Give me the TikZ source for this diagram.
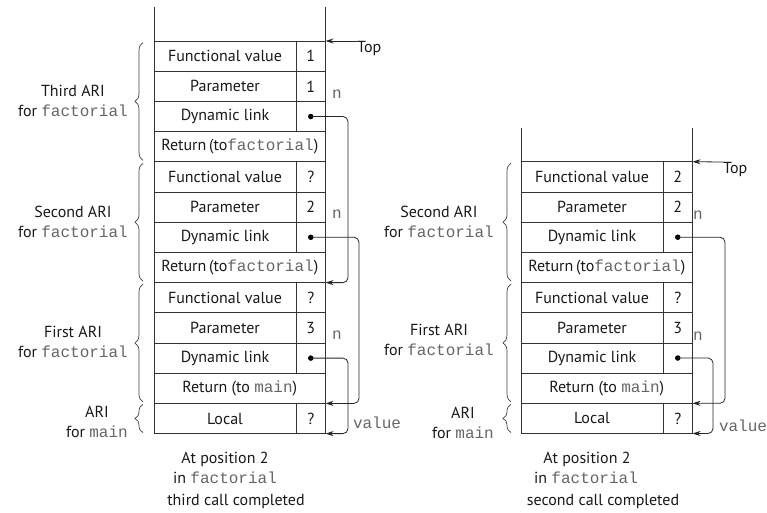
\documentclass[tikz,border=0pt]{standalone}
\usepackage{fontspec}
\setmainfont{PT Sans}
\setmonofont{Liberation Mono}
\usetikzlibrary{arrows.meta,decorations.pathreplacing,calc}
\newcommand{\codetxt}[1]{{\color{black!60}\ttfamily #1}}
\newcommand{\trow}[4]{\node[lcell] (#1l) at (#2) {#3}; \node[rcell] (#1r) at (#1l.north east) {#4};}
\newcommand{\frow}[3]{\node[fcell] (#1l) at (#2) {#3};}
\begin{document}
\begin{tikzpicture}[x=1pt,y=-1pt,
  every node/.style={font=\fontsize{16}{20}\selectfont, text=black!90},
  cellbase/.style={draw=black!80, line width=0.8pt, minimum height=30.2pt, inner sep=0pt, outer sep=0pt, anchor=north west},
  lcell/.style={cellbase, minimum width=142pt},
  rcell/.style={cellbase, minimum width=29.5pt},
  fcell/.style={cellbase, minimum width=171.5pt},
  wall/.style={draw=black!80, line width=0.8pt},
  dotn/.style={circle, fill=black, inner sep=0pt, minimum size=5.5pt},
  arr/.style={draw=black!85, line width=0.8pt, -{Stealth[length=8pt,width=5pt]}},
  link/.style={arr, rounded corners=5pt},
  brc/.style={draw=black!75, line width=0.7pt, decorate, decoration={brace, amplitude=8pt}},
  brlbl/.style={anchor=east, align=center, inner sep=0pt},
  toplbl/.style={anchor=north west, inner sep=0pt},
  lbl/.style={inner sep=0pt}
]
\useasboundingbox (0,0) rectangle (767,512);
\fill[white] (0,0) rectangle (767,512);

% ---------- left stack ----------
\trow{L0}{154,41}{Functional value}{1}
\trow{L1}{L0l.south west}{Parameter}{1}
\trow{L2}{L1l.south west}{Dynamic link}{}
\frow{L3}{L2l.south west}{Return\,(to\codetxt{factorial})}
\trow{L4}{L3l.south west}{Functional value}{?}
\trow{L5}{L4l.south west}{Parameter}{2}
\trow{L6}{L5l.south west}{Dynamic link}{}
\frow{L7}{L6l.south west}{Return\,(to\codetxt{factorial})}
\trow{L8}{L7l.south west}{Functional value}{?}
\trow{L9}{L8l.south west}{Parameter}{3}
\trow{L10}{L9l.south west}{Dynamic link}{}
\frow{L11}{L10l.south west}{Return (to \codetxt{main})}
\trow{L12}{L11l.south west}{Local}{?}

\draw[wall] (L0l.north west) -- ++(0,-34);
\draw[wall] (L0r.north east) -- ++(0,-34);

\node[dotn] (L2d) at (L2r.center) {};
\node[dotn] (L6d) at (L6r.center) {};
\node[dotn] (L10d) at (L10r.center) {};

\coordinate (LxA) at (348,0);
\coordinate (LxB) at (359,0);
\draw[link] (L2d.center) -- (L2d.center -| LxA) -- (LxA |- L8r.north east) -- (L8r.north east);
\draw[link] (L6d.center) -- (L6d.center -| LxB) -- (LxB |- L12r.north east) -- (L12r.north east);
\draw[link] (L10d.center) -- (L10d.center -| LxA) -- (LxA |- L12r.south east) -- (L12r.south east);

\node[toplbl] (TL) at (357,41) {Top};
\draw[arr] (TL.north west) -- (L0r.north east);

\node[lbl] (Ln1) at (337,94) {\codetxt{n}};
\node[lbl] (Ln2) at (337,214) {\codetxt{n}};
\node[lbl] (Ln3) at (337,335) {\codetxt{n}};
\node[lbl] (Lval) at (377,423) {\codetxt{value}};

\draw[brc] ([xshift=-11pt,yshift=1.5pt]L3l.south west) -- ([xshift=-11pt,yshift=-1.5pt]L0l.north west);
\draw[brc] ([xshift=-11pt,yshift=1.5pt]L7l.south west) -- ([xshift=-11pt,yshift=-1.5pt]L4l.north west);
\draw[brc] ([xshift=-11pt,yshift=1.5pt]L11l.south west) -- ([xshift=-11pt,yshift=-1.5pt]L8l.north west);
\draw[brc] ([xshift=-11pt,yshift=1pt]L12l.south west) -- ([xshift=-11pt,yshift=-1pt]L12l.north west);

\node[brlbl] (LB1) at (128,101) {Third ARI\\for \codetxt{factorial}};
\node[brlbl] (LB2) at (128,222) {Second ARI\\for \codetxt{factorial}};
\node[brlbl] (LB3) at (128,342) {First ARI\\for \codetxt{factorial}};
\node[brlbl] (LB4) at (128,422) {ARI\\for \codetxt{main}};

\node[lbl] (LC1) at (225,459) {At position 2};
\node[lbl] (LC2) at (225,478) {in \codetxt{factorial}};
\node[lbl] (LC3) at (236,501) {third call completed};

% ---------- right stack ----------
\trow{R0}{521,161.7}{Functional value}{2}
\trow{R1}{R0l.south west}{Parameter}{2}
\trow{R2}{R1l.south west}{Dynamic link}{}
\frow{R3}{R2l.south west}{Return\,(to\codetxt{factorial})}
\trow{R4}{R3l.south west}{Functional value}{?}
\trow{R5}{R4l.south west}{Parameter}{3}
\trow{R6}{R5l.south west}{Dynamic link}{}
\frow{R7}{R6l.south west}{Return (to \codetxt{main})}
\trow{R8}{R7l.south west}{Local}{?}

\draw[wall] (R0l.north west) -- ++(0,-34);
\draw[wall] (R0r.north east) -- ++(0,-34);

\node[dotn] (R2d) at (R2r.center) {};
\node[dotn] (R6d) at (R6r.center) {};

\coordinate (RxA) at (725,0);
\coordinate (RxB) at (713,0);
\draw[link] (R2d.center) -- (R2d.center -| RxA) -- (RxA |- R8r.north east) -- (R8r.north east);
\draw[link] (R6d.center) -- (R6d.center -| RxB) -- (RxB |- R8r.south east) -- (R8r.south east);

\node[toplbl] (TR) at (723,162) {Top};
\draw[arr] (TR.north west) -- (R0r.north east);

\node[lbl] (Rn1) at (698,215) {\codetxt{n}};
\node[lbl] (Rn2) at (698,336) {\codetxt{n}};
\node[lbl] (Rval) at (743,426) {\codetxt{value}};

\draw[brc] ([xshift=-10pt,yshift=1.5pt]R3l.south west) -- ([xshift=-10pt,yshift=-1.5pt]R0l.north west);
\draw[brc] ([xshift=-10pt,yshift=1.5pt]R7l.south west) -- ([xshift=-10pt,yshift=-1.5pt]R4l.north west);
\draw[brc] ([xshift=-10pt,yshift=1pt]R8l.south west) -- ([xshift=-10pt,yshift=-1pt]R8l.north west);

\node[brlbl] (RB1) at (494,222) {Second ARI\\for \codetxt{factorial}};
\node[brlbl] (RB2) at (494,340) {First ARI\\for \codetxt{factorial}};
\node[brlbl] (RB3) at (494,423) {ARI\\for \codetxt{main}};

\node[lbl] (RC1) at (587,459) {At position 2};
\node[lbl] (RC2) at (586,478) {in \codetxt{factorial}};
\node[lbl] (RC3) at (603,501) {second call completed};
\end{tikzpicture}
\end{document}
